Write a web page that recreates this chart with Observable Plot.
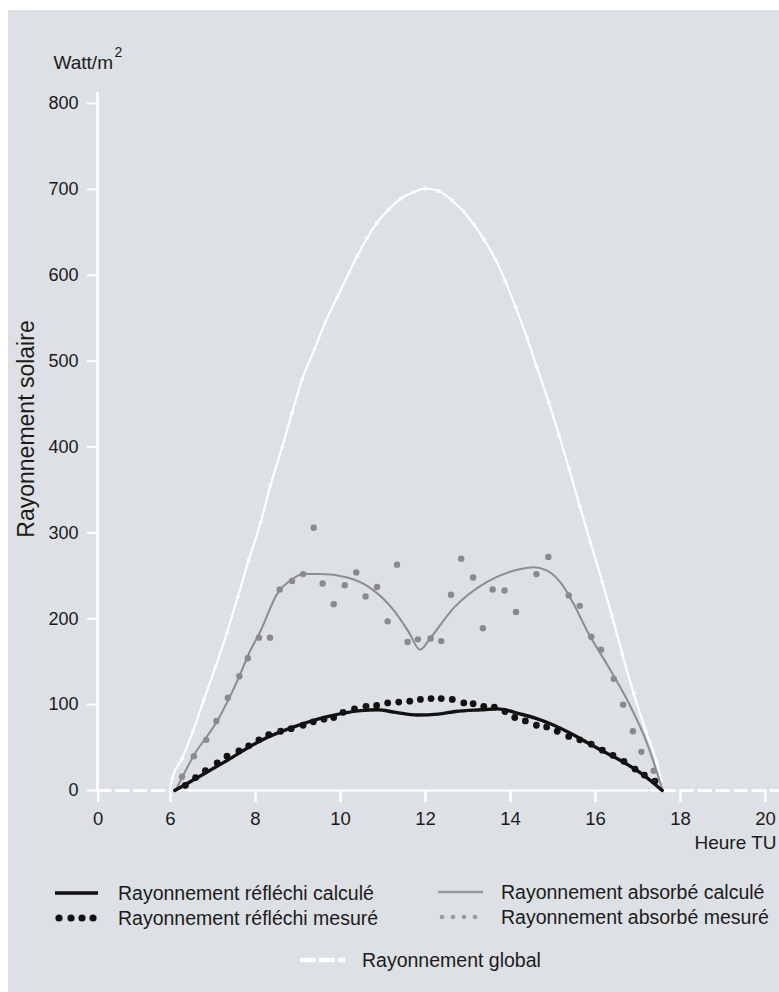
<!DOCTYPE html>
<html><head><meta charset="utf-8">
<script src="https://cdn.jsdelivr.net/npm/d3@7"></script>
<script src="https://cdn.jsdelivr.net/npm/@observablehq/plot@0.6"></script>
<style>
html,body{margin:0;padding:0;background:#fff;}
body{width:779px;height:992px;overflow:hidden;position:relative;font-family:"Liberation Sans",Arial,sans-serif;color:#1b1b1b;}
#panel{position:absolute;left:8px;top:10px;width:771px;height:982px;background:#dde0e4;}
#chart{position:absolute;left:0;top:0;}
#legend{position:absolute;left:0;top:870px;width:779px;height:122px;}
.sw{position:absolute;}
.lt{position:absolute;font-size:19.5px;line-height:22px;white-space:nowrap;color:#1b1b1b;}
</style></head><body>
<div id="panel"></div>
<div id="chart"></div>
<div id="legend"></div>
<script>
// ---- axis ticks ----
const xTickPositions = [4.3, 6, 8, 10, 12, 14, 16, 18, 20];
const xTickLabels = ["0", "6", "8", "10", "12", "14", "16", "18", "20"];
const yTicks = [0, 100, 200, 300, 400, 500, 600, 700, 800];

// ---- Rayonnement global (white) ----
const globalHours = [5.98, 6.04, 6.27, 6.52, 6.78, 7.06, 7.33, 7.58, 7.84, 8.12, 8.35, 8.63, 8.86, 9.1, 9.39, 9.65, 9.92, 10.2, 10.39, 10.62, 10.86, 11.14, 11.41, 11.73, 12.0, 12.3, 12.63, 12.9, 13.14, 13.37, 13.65, 13.88, 14.12, 14.39, 14.62, 14.9, 15.14, 15.37, 15.63, 15.88, 16.16, 16.39, 16.63, 16.9, 17.18, 17.44, 17.55];
const globalValues = [0, 14, 37, 68, 105, 144, 184, 225, 268, 312, 355, 400, 440, 479, 514, 546, 574, 603, 622, 643, 661, 677, 689, 697, 701, 698, 687, 674, 659, 642, 618, 593, 563, 527, 493, 452, 414, 376, 331, 289, 243, 203, 159, 113, 70, 33, 12];
// night: global radiation zero (dashed)
const nightStart = [4.3, 17.58];
const nightEnd = [6.0, 20.35];

// ---- Rayonnement absorbé calculé (grey line) ----
const absCalcHours = [6.12, 6.55, 7.1, 7.61, 7.84, 8.12, 8.51, 8.86, 9.14, 9.53, 10.16, 10.78, 11.25, 11.6, 11.87, 12.12, 12.67, 13.45, 14.24, 14.55, 14.86, 15.18, 15.49, 15.8, 16.27, 16.75, 17.22, 17.58];
const absCalcValues = [0, 41, 81, 132, 159, 186, 229, 246, 252, 252, 248, 233, 210, 185, 164, 178, 213, 243, 258, 260, 256, 242, 217, 186, 147, 105, 54, 0];

// ---- Rayonnement absorbé mesuré (grey dots) ----
const absMesHours = [6.27, 6.55, 6.84, 7.08, 7.35, 7.62, 7.82, 8.08, 8.34, 8.57, 8.86, 9.12, 9.37, 9.58, 9.84, 10.1, 10.37, 10.59, 10.86, 11.11, 11.33, 11.58, 11.82, 12.12, 12.37, 12.6, 12.84, 13.12, 13.35, 13.58, 13.86, 14.13, 14.61, 14.89, 15.37, 15.63, 15.9, 16.13, 16.43, 16.65, 16.88, 17.08, 17.37];
const absMesValues = [16, 40, 59, 81, 108, 133, 154, 178, 178, 234, 244, 252, 306, 241, 217, 239, 254, 226, 237, 197, 263, 173, 176, 177, 174, 228, 270, 248, 189, 234, 233, 208, 252, 272, 227, 215, 179, 164, 130, 100, 69, 45, 23];

// ---- Rayonnement réfléchi calculé (black line) ----
const refCalcHours = [6.1, 6.6, 7.33, 8.12, 8.9, 9.69, 10.47, 10.86, 11.3, 11.8, 12.3, 12.7, 13.3, 13.7, 14.24, 14.6, 15.02, 15.4, 15.8, 16.2, 16.59, 17.1, 17.57];
const refCalcValues = [0, 14, 35, 58, 74, 86, 93, 94, 91, 88, 89, 92, 94, 95, 89, 84, 76, 67, 56, 45, 35, 19, 0];

// ---- Rayonnement réfléchi mesuré (black dots) ----
const refMesHours = [6.35, 6.59, 6.82, 7.1, 7.33, 7.61, 7.84, 8.08, 8.31, 8.59, 8.84, 9.12, 9.36, 9.61, 9.84, 10.06, 10.33, 10.6, 10.85, 11.11, 11.37, 11.63, 11.88, 12.13, 12.37, 12.63, 12.9, 13.12, 13.37, 13.62, 13.87, 14.1, 14.35, 14.61, 14.85, 15.1, 15.37, 15.63, 15.9, 16.16, 16.41, 16.67, 16.93, 17.15, 17.4];
const refMesValues = [6, 15, 23, 32, 40, 46, 52, 59, 65, 69, 72, 76, 80, 83, 85, 91, 95, 98, 99, 102, 103, 104, 106, 107, 107, 106, 102, 101, 98, 97, 92, 85, 81, 76, 74, 69, 63, 59, 54, 47, 41, 34, 25, 18, 11];

// ---- legend labels ----
const legendLabels = ["Rayonnement réfléchi calculé", "Rayonnement réfléchi mesuré", "Rayonnement absorbé calculé", "Rayonnement absorbé mesuré", "Rayonnement global"];

const C_BLACK = "#111111", C_GREY = "#8d8d8d", C_TEXT = "#1b1b1b";
const toRows = (hs, vs) => hs.map((h, i) => ({h, v: vs[i]}));
const globalData = toRows(globalHours, globalValues);
const nightData = nightStart.flatMap((s, i) => [{h: s, v: 0, z: i}, {h: nightEnd[i], v: 0, z: i}]);
const absCalc = toRows(absCalcHours, absCalcValues);
const absMes = toRows(absMesHours, absMesValues);
const refCalc = toRows(refCalcHours, refCalcValues);
const refMes = toRows(refMesHours, refMesValues);

const chart = Plot.plot({
  width: 779, height: 870,
  marginLeft: 97, marginRight: 0, marginTop: 93, marginBottom: 80,
  style: {background: "transparent", fontFamily: '"Liberation Sans", Arial, sans-serif', fontSize: "18px", color: C_TEXT, overflow: "visible"},
  x: {domain: [6, 20], range: [170, 765]},
  y: {domain: [0, 800], range: [790, 103]},
  marks: [
    Plot.frame({anchor: "left", stroke: "white", strokeWidth: 3, strokeOpacity: 1}),
    Plot.axisY(yTicks, {tickSize: 10, tickPadding: 9, stroke: "white", strokeWidth: 2, strokeOpacity: 1, fill: C_TEXT, fontSize: 18, label: null}),
    Plot.axisX(xTickPositions, {tickSize: 12, tickPadding: 9, stroke: "white", strokeWidth: 2.5, strokeOpacity: 1, fill: C_TEXT, fontSize: 18.5, label: null,
      tickFormat: d => xTickLabels[xTickPositions.indexOf(d)]}),
    Plot.ruleY([0], {x1: globalHours[0], x2: refCalcHours[refCalcHours.length - 1], stroke: "white", strokeWidth: 2}),
    Plot.line(nightData, {x: "h", y: "v", z: "z", stroke: "white", strokeWidth: 3, strokeDasharray: "12,6"}),
    Plot.line(globalData, {x: "h", y: "v", stroke: "white", strokeWidth: 2.2, curve: "monotone-x"}),
    Plot.dot(globalData.slice(1), {x: "h", y: "v", r: 2, fill: "white"}),
    Plot.line(absCalc, {x: "h", y: "v", stroke: C_GREY, strokeWidth: 2, curve: "monotone-x"}),
    Plot.dot(absMes, {x: "h", y: "v", r: 3.2, fill: "#8a8a8a"}),
    Plot.line(refCalc, {x: "h", y: "v", stroke: C_BLACK, strokeWidth: 3.4, curve: "monotone-x"}),
    Plot.dot(refMes, {x: "h", y: "v", r: 3.4, fill: C_BLACK}),
    Plot.text(["Watt/m"], {text: d => d, frameAnchor: "top-left", dx: -44, dy: -38, textAnchor: "start", fontSize: 19, fill: C_TEXT}),
    Plot.text(["2"], {text: d => d, frameAnchor: "top-left", dx: 17, dy: -46, textAnchor: "start", fontSize: 14, fill: C_TEXT}),
    Plot.text(["Rayonnement solaire"], {text: d => d, frameAnchor: "left", textAnchor: "middle", rotate: -90, dx: -71, dy: -13, fontSize: 23, fill: C_TEXT}),
    Plot.text(["Heure TU"], {text: d => d, frameAnchor: "bottom-right", dx: -3, dy: 58, textAnchor: "end", fontSize: 19, fill: C_TEXT})
  ]
});
document.getElementById("chart").appendChild(chart);

// ---- legend (below the SVG) ----
const legend = document.getElementById("legend");
function swatch(kind, left, cy) {
  const w = 46, h = 14;
  const ns = "http://www.w3.org/2000/svg";
  const s = document.createElementNS(ns, "svg");
  s.setAttribute("width", w); s.setAttribute("height", h);
  s.setAttribute("class", "sw");
  s.style.left = left + "px"; s.style.top = (cy - h / 2) + "px";
  const add = (tag, attrs) => { const e = document.createElementNS(ns, tag); for (const k in attrs) e.setAttribute(k, attrs[k]); s.appendChild(e); };
  if (kind === "blackLine") add("line", {x1: 0, x2: 43, y1: 7, y2: 7, stroke: C_BLACK, "stroke-width": 3.5});
  if (kind === "blackDots") [4, 16, 27, 38].forEach(x => add("circle", {cx: x, cy: 7, r: 3.6, fill: C_BLACK}));
  if (kind === "greyLine") add("line", {x1: 0, x2: 45, y1: 7, y2: 7, stroke: "#9a9a9a", "stroke-width": 2.5});
  if (kind === "greyDots") [4, 15, 26, 37].forEach(x => add("circle", {cx: x, cy: 7, r: 2.3, fill: "#9a9a9a"}));
  if (kind === "whiteDash") add("line", {x1: 0, x2: 45, y1: 7, y2: 7, stroke: "white", "stroke-width": 4.5, "stroke-dasharray": "16,3"});
  legend.appendChild(s);
}
function label(text, left, cy) {
  const d = document.createElement("div");
  d.className = "lt"; d.textContent = text;
  d.style.left = left + "px"; d.style.top = (cy - 11) + "px";
  legend.appendChild(d);
}
const kinds = ["blackLine", "blackDots", "greyLine", "greyDots", "whiteDash"];
const swLeft = [55, 55, 438, 438, 300];
const txLeft = [118, 118, 501, 501, 362];
const rowY = [23, 48, 22, 47, 90];
legendLabels.forEach((t, i) => { swatch(kinds[i], swLeft[i], rowY[i]); label(t, txLeft[i], rowY[i]); });
</script>
</body></html>
